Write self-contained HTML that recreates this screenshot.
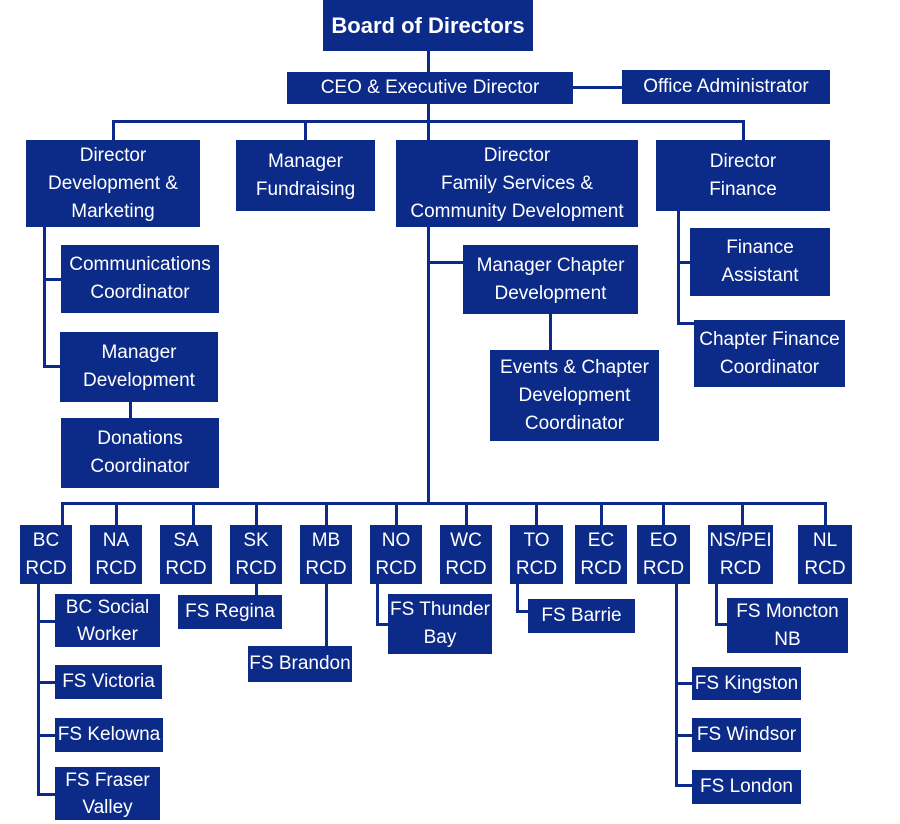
<!DOCTYPE html>
<html><head><meta charset="utf-8"><style>
body{margin:0;width:900px;height:824px;background:#fff;position:relative;overflow:hidden;font-family:"Liberation Sans",sans-serif}
.b{position:absolute;background:#0c2a88;color:#fff;display:flex;align-items:center;justify-content:center;text-align:center;font-size:19px;line-height:28px;white-space:nowrap}
.l{position:absolute;background:#0c2a88}
</style></head><body>
<!-- lines -->
<div class="l" style="left:427px;top:50px;width:3px;height:455px"></div>
<div class="l" style="left:530px;top:86px;width:92px;height:3px"></div>
<div class="l" style="left:112px;top:120px;width:633px;height:3px"></div>
<div class="l" style="left:112px;top:120px;width:3px;height:20px"></div>
<div class="l" style="left:304px;top:120px;width:3px;height:20px"></div>
<div class="l" style="left:742px;top:120px;width:3px;height:20px"></div>
<div class="l" style="left:43px;top:227px;width:3px;height:141px"></div>
<div class="l" style="left:43px;top:278px;width:18px;height:3px"></div>
<div class="l" style="left:43px;top:365px;width:18px;height:3px"></div>
<div class="l" style="left:129px;top:402px;width:3px;height:17px"></div>
<div class="l" style="left:427px;top:261px;width:36px;height:3px"></div>
<div class="l" style="left:549px;top:314px;width:3px;height:36px"></div>
<div class="l" style="left:677px;top:211px;width:3px;height:114px"></div>
<div class="l" style="left:677px;top:261px;width:14px;height:3px"></div>
<div class="l" style="left:677px;top:322px;width:18px;height:3px"></div>
<div class="l" style="left:61px;top:502px;width:766px;height:3px"></div>
<div class="l" style="left:61px;top:502px;width:3px;height:23px"></div>
<div class="l" style="left:115px;top:502px;width:3px;height:23px"></div>
<div class="l" style="left:192px;top:502px;width:3px;height:23px"></div>
<div class="l" style="left:255px;top:502px;width:3px;height:23px"></div>
<div class="l" style="left:325px;top:502px;width:3px;height:23px"></div>
<div class="l" style="left:395px;top:502px;width:3px;height:23px"></div>
<div class="l" style="left:465px;top:502px;width:3px;height:23px"></div>
<div class="l" style="left:535px;top:502px;width:3px;height:23px"></div>
<div class="l" style="left:600px;top:502px;width:3px;height:23px"></div>
<div class="l" style="left:662px;top:502px;width:3px;height:23px"></div>
<div class="l" style="left:741px;top:502px;width:3px;height:23px"></div>
<div class="l" style="left:824px;top:502px;width:3px;height:23px"></div>
<div class="l" style="left:37px;top:584px;width:3px;height:211px"></div>
<div class="l" style="left:37px;top:620px;width:18px;height:3px"></div>
<div class="l" style="left:37px;top:681px;width:18px;height:3px"></div>
<div class="l" style="left:37px;top:734px;width:18px;height:3px"></div>
<div class="l" style="left:37px;top:793px;width:18px;height:3px"></div>
<div class="l" style="left:255px;top:584px;width:3px;height:12px"></div>
<div class="l" style="left:325px;top:584px;width:3px;height:63px"></div>
<div class="l" style="left:376px;top:584px;width:3px;height:42px"></div>
<div class="l" style="left:376px;top:623px;width:12px;height:3px"></div>
<div class="l" style="left:516px;top:584px;width:3px;height:29px"></div>
<div class="l" style="left:516px;top:610px;width:12px;height:3px"></div>
<div class="l" style="left:675px;top:584px;width:3px;height:203px"></div>
<div class="l" style="left:675px;top:682px;width:17px;height:3px"></div>
<div class="l" style="left:675px;top:734px;width:17px;height:3px"></div>
<div class="l" style="left:675px;top:784px;width:17px;height:3px"></div>
<div class="l" style="left:715px;top:584px;width:3px;height:42px"></div>
<div class="l" style="left:715px;top:623px;width:12px;height:3px"></div>
<!-- boxes -->
<div class="b" style="left:323px;top:0;width:210px;height:51px;font-weight:bold;font-size:22px">Board of Directors</div>
<div class="b" style="left:287px;top:72px;width:286px;height:32px">CEO &amp; Executive Director</div>
<div class="b" style="left:622px;top:70px;width:208px;height:34px">Office Administrator</div>
<div class="b" style="left:26px;top:140px;width:174px;height:87px">Director<br>Development &amp;<br>Marketing</div>
<div class="b" style="left:236px;top:140px;width:139px;height:71px">Manager<br>Fundraising</div>
<div class="b" style="left:396px;top:140px;width:242px;height:87px">Director<br>Family Services &amp;<br>Community Development</div>
<div class="b" style="left:656px;top:140px;width:174px;height:71px">Director<br>Finance</div>
<div class="b" style="left:61px;top:245px;width:158px;height:68px">Communications<br>Coordinator</div>
<div class="b" style="left:60px;top:332px;width:158px;height:70px">Manager<br>Development</div>
<div class="b" style="left:61px;top:418px;width:158px;height:70px">Donations<br>Coordinator</div>
<div class="b" style="left:463px;top:245px;width:175px;height:69px">Manager Chapter<br>Development</div>
<div class="b" style="left:490px;top:350px;width:169px;height:91px">Events &amp; Chapter<br>Development<br>Coordinator</div>
<div class="b" style="left:690px;top:228px;width:140px;height:68px">Finance<br>Assistant</div>
<div class="b" style="left:694px;top:320px;width:151px;height:67px">Chapter Finance<br>Coordinator</div>
<div class="b" style="left:20px;top:525px;width:52px;height:59px">BC<br>RCD</div>
<div class="b" style="left:90px;top:525px;width:52px;height:59px">NA<br>RCD</div>
<div class="b" style="left:160px;top:525px;width:52px;height:59px">SA<br>RCD</div>
<div class="b" style="left:230px;top:525px;width:52px;height:59px">SK<br>RCD</div>
<div class="b" style="left:300px;top:525px;width:52px;height:59px">MB<br>RCD</div>
<div class="b" style="left:370px;top:525px;width:52px;height:59px">NO<br>RCD</div>
<div class="b" style="left:440px;top:525px;width:52px;height:59px">WC<br>RCD</div>
<div class="b" style="left:510px;top:525px;width:53px;height:59px">TO<br>RCD</div>
<div class="b" style="left:575px;top:525px;width:52px;height:59px">EC<br>RCD</div>
<div class="b" style="left:637px;top:525px;width:53px;height:59px">EO<br>RCD</div>
<div class="b" style="left:708px;top:525px;width:65px;height:59px">NS/PEI<br>RCD</div>
<div class="b" style="left:798px;top:525px;width:54px;height:59px">NL<br>RCD</div>
<div class="b" style="left:55px;top:594px;width:105px;height:53px;line-height:27px">BC Social<br>Worker</div>
<div class="b" style="left:55px;top:665px;width:107px;height:34px">FS Victoria</div>
<div class="b" style="left:55px;top:718px;width:108px;height:34px">FS Kelowna</div>
<div class="b" style="left:55px;top:767px;width:105px;height:53px;line-height:27px">FS Fraser<br>Valley</div>
<div class="b" style="left:178px;top:595px;width:104px;height:34px">FS Regina</div>
<div class="b" style="left:248px;top:646px;width:104px;height:36px">FS Brandon</div>
<div class="b" style="left:388px;top:594px;width:104px;height:60px">FS Thunder<br>Bay</div>
<div class="b" style="left:528px;top:599px;width:107px;height:34px">FS Barrie</div>
<div class="b" style="left:727px;top:598px;width:121px;height:55px">FS Moncton<br>NB</div>
<div class="b" style="left:692px;top:667px;width:109px;height:33px">FS Kingston</div>
<div class="b" style="left:692px;top:718px;width:109px;height:34px">FS Windsor</div>
<div class="b" style="left:692px;top:770px;width:109px;height:34px">FS London</div>
</body></html>
